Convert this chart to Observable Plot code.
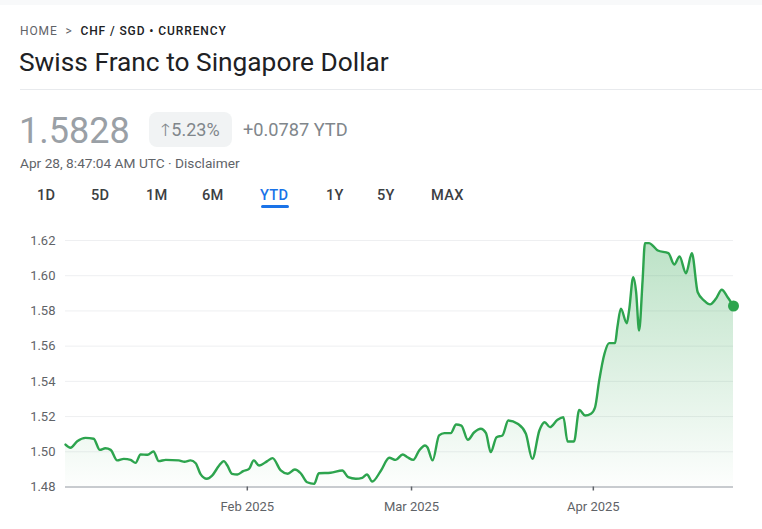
<!DOCTYPE html>
<html><head><meta charset="utf-8">
<script src="https://cdn.jsdelivr.net/npm/d3@7"></script>
<script src="https://cdn.jsdelivr.net/npm/@observablehq/plot@0.6"></script>
<style>
body{margin:0;width:762px;height:529px;background:#fff;font-family:Roboto,Arial,sans-serif;position:relative;overflow:hidden}
.abs{position:absolute;white-space:nowrap}
#topband{left:0;top:0;width:762px;height:5px;background:#f8f9fa}
#crumb{left:20px;top:24px;font-size:12px;letter-spacing:0.9px;color:#5f6368}
#crumb b{color:#202124;font-weight:500}
#title{left:19px;top:47px;font-size:26.3px;color:#202124;font-weight:400}
#sep{left:20px;top:89px;width:742px;height:1px;background:#e8eaed}
#price{left:19px;top:109px;font-size:36px;color:#9aa0a6;line-height:44px}
#badge{left:149px;top:112px;width:83px;height:35px;border-radius:8px;background:#f1f3f4;font-size:18px;color:#80868b;line-height:35px;text-align:center}
#badge span{font-size:17px;margin-right:1px}
#chg{left:243px;top:118px;font-size:18.2px;color:#80868b;line-height:24px}
#stamp{left:20px;top:155px;font-size:13.7px;color:#5f6368;line-height:17px}
.tab{top:186px;font-size:14.6px;color:#3c4043;font-weight:500;letter-spacing:0.3px;line-height:18px}
#ytd{color:#1a73e8}
#uline{left:261px;top:205px;width:28px;height:3px;border-radius:2px;background:#1a73e8}
#chart{left:0;top:220px}
</style></head><body>
<div class="abs" id="topband"></div>
<div class="abs" id="crumb">HOME &nbsp;&gt;&nbsp; <b>CHF / SGD • CURRENCY</b></div>
<div class="abs" id="title">Swiss Franc to Singapore Dollar</div>
<div class="abs" id="sep"></div>
<div class="abs" id="price">1.5828</div>
<div class="abs" id="badge"><span>🡑</span>5.23%</div>
<div class="abs" id="chg">+0.0787 YTD</div>
<div class="abs" id="stamp">Apr 28, 8:47:04 AM UTC · Disclaimer</div>
<div class="abs tab" style="left:37px">1D</div>
<div class="abs tab" style="left:91px">5D</div>
<div class="abs tab" style="left:146px">1M</div>
<div class="abs tab" style="left:202px">6M</div>
<div class="abs tab" id="ytd" style="left:260px">YTD</div>
<div class="abs tab" style="left:326px">1Y</div>
<div class="abs tab" style="left:377px">5Y</div>
<div class="abs tab" style="left:431px">MAX</div>
<div class="abs" id="uline"></div>
<div class="abs" id="chart"></div>
<script>
// days since 2025-01-01 (UTC)
const days = [0,0.85,2.0,3.4,4.8,5.85,6.8,7.7,8.8,9.95,11.1,11.95,12.8,14.0,15.0,15.9,17.1,19.3,20.3,21.3,22.2,23.0,24.1,25.0,26.2,27.0,27.6,28.4,29.3,30.3,31.3,32.1,33.0,34.4,35.3,36.7,37.9,39.1,40.1,41.2,42.4,43.2,45.2,47.2,48.2,49.5,50.6,51.4,52.3,53.8,55.2,56.3,57.5,58.3,59.3,60.3,61.3,61.7,62.6,63.7,64.6,65.7,66.6,67.5,68.6,69.7,70.8,71.7,72.5,73.5,74.5,75.5,77.1,78.5,79.6,80.8,81.7,82.6,83.9,84.9,85.6,86.7,87.6,88.6,89.6,90.3,91.0,91.9,92.7,93.7,94.1,94.7,95.7,96.1,96.8,97.3,97.8,98.4,98.8,99.5,100.1,101.0,102.8,103.8,104.7,105.8,106.8,107.8,108.9,109.9,110.9,111.9,112.9,113.9];
const rates = [1.5041,1.5023,1.5060,1.5079,1.5074,1.5011,1.5020,1.5011,1.4951,1.4960,1.4954,1.4937,1.4985,1.4983,1.5002,1.4947,1.4954,1.4951,1.4943,1.4951,1.4935,1.4875,1.4847,1.4865,1.4922,1.4947,1.4922,1.4875,1.4871,1.4890,1.4903,1.4951,1.4922,1.4947,1.4964,1.4894,1.4875,1.4899,1.4878,1.4827,1.4818,1.4878,1.4881,1.4894,1.4856,1.4847,1.4852,1.4871,1.4831,1.4894,1.4966,1.4954,1.4985,1.4969,1.4954,1.5007,1.5036,1.5026,1.4951,1.5093,1.5106,1.5106,1.5155,1.5149,1.5068,1.5111,1.5131,1.5106,1.4998,1.5083,1.5093,1.5178,1.5159,1.5102,1.4960,1.5121,1.5168,1.5140,1.5182,1.5196,1.5058,1.5058,1.5238,1.5206,1.5216,1.5253,1.5405,1.5557,1.5617,1.5617,1.5708,1.5812,1.5730,1.5803,1.5992,1.5906,1.5689,1.5973,1.6185,1.6185,1.6172,1.6143,1.6128,1.6064,1.6109,1.6014,1.6128,1.5906,1.5859,1.5837,1.5869,1.5920,1.5878,1.5828];
const yTicks = [1.48,1.50,1.52,1.54,1.56,1.58,1.60,1.62];
const monthTicks = ["2025-02-01","2025-03-01","2025-04-01"];
const yMin = 1.48, yMax = 1.62;
const green = "#2da44e";

const start = Date.UTC(2025,0,1);
const data = days.map((d,i)=>({date:new Date(start + d*864e5), value:rates[i]}));
const last = data[data.length-1];

const svg = Plot.plot({
  width:762, height:309,
  marginTop:20, marginBottom:42.5, marginLeft:65, marginRight:29,
  style:{fontFamily:"Roboto, Arial, sans-serif", fontSize:"13px", color:"#5f6368", background:"transparent"},
  x:{type:"utc", domain:[data[0].date, last.date]},
  y:{domain:[yMin,yMax]},
  marks:[
    Plot.gridY(yTicks,{stroke:"#eeeff1", strokeOpacity:1}),
    Plot.areaY(data,{x:"date", y1:yMin, y2:"value", curve:"monotone-x", fill:"url(#fxgrad)"}),
    Plot.ruleY([yMin],{stroke:"#9aa0a6", strokeWidth:1}),
    Plot.lineY(data,{x:"date", y:"value", curve:"monotone-x", stroke:green, strokeWidth:2.4}),
    Plot.dot([last],{x:"date", y:"value", r:5.5, fill:green}),
    Plot.axisY({ticks:yTicks, tickSize:0, tickPadding:10, tickFormat:d3.format(".2f"), label:null, fill:"#5f6368"}),
    Plot.axisX({ticks:monthTicks.map(s=>new Date(s+"T00:00:00Z")), tickSize:4, tickPadding:11, tickFormat:d3.utcFormat("%b %Y"), label:null, stroke:"#5f6368", strokeWidth:1.5, fill:"#5f6368"})
  ]
});
const ns = "http://www.w3.org/2000/svg";
const defs = document.createElementNS(ns,"defs");
defs.innerHTML = '<linearGradient id="fxgrad" x1="0" y1="0" x2="0" y2="1"><stop offset="0" stop-color="'+green+'" stop-opacity="0.32"/><stop offset="1" stop-color="'+green+'" stop-opacity="0.01"/></linearGradient>';
svg.insertBefore(defs, svg.firstChild);
document.getElementById("chart").appendChild(svg);
</script>
</body></html>
